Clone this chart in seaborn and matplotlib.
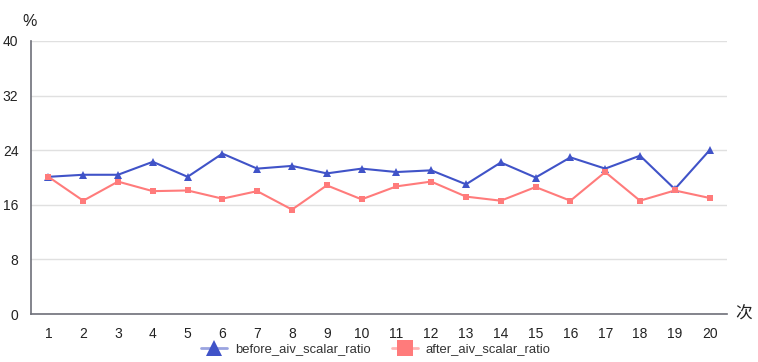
import pandas as pd
import seaborn as sns
import matplotlib.pyplot as plt
from matplotlib.lines import Line2D
from matplotlib.ticker import FixedLocator

# Data
runs = [str(i) for i in range(1, 21)]
before_aiv_scalar_ratio = [20.1, 20.4, 20.4, 22.3, 20.1, 23.5, 21.3, 21.7, 20.6, 21.3,
                           20.8, 21.05, 19.0, 22.2, 20.0, 22.95, 21.3, 23.2, 18.3, 24.0]
after_aiv_scalar_ratio = [20.1, 16.6, 19.4, 18.0, 18.1, 16.9, 18.0, 15.3, 18.85, 16.8,
                          18.7, 19.4, 17.2, 16.6, 18.6, 16.6, 20.8, 16.6, 18.1, 17.0]
y_ticks = [0, 8, 16, 24, 32, 40]

blue = '#4053c8'
red = '#ff7b7b'

df = pd.DataFrame({'run': range(20),
                   'before_aiv_scalar_ratio': before_aiv_scalar_ratio,
                   'after_aiv_scalar_ratio': after_aiv_scalar_ratio})

sns.set_style('white')
plt.rcParams['font.family'] = ['Liberation Sans', 'Noto Sans CJK SC', 'DejaVu Sans']

fig = plt.figure(figsize=(7.58, 3.62), dpi=100)
ax = fig.add_axes([31/758, 48/362, 696/758, 273/362])

sns.lineplot(data=df, x='run', y='before_aiv_scalar_ratio', ax=ax, color=blue,
             marker='^', markersize=5.5, markeredgewidth=0, linewidth=1.5, zorder=2)
sns.lineplot(data=df, x='run', y='after_aiv_scalar_ratio', ax=ax, color=red,
             marker='s', markersize=5, markeredgewidth=0, linewidth=1.5, zorder=3)

ax.set_xlim(-0.5, 19.5)
ax.set_ylim(0, 40)
ax.set_yticks(y_ticks)
ax.yaxis.grid(True, color='#e0e0e0', linewidth=1)
ax.set_axisbelow(True)

# category boundaries get tick marks, centres get the labels
ax.xaxis.set_major_locator(FixedLocator([i - 0.5 for i in range(21)]))
ax.xaxis.set_minor_locator(FixedLocator(list(range(20))))
ax.set_xticklabels([''] * 21)
ax.set_xticklabels(runs, minor=True)
ax.tick_params(axis='x', which='major', length=5, width=1, color='#6e7079', direction='out')
ax.tick_params(axis='x', which='minor', length=0, pad=9, labelsize=10, labelcolor='#222222')
ax.tick_params(axis='y', length=5, width=1, color='#6e7079', direction='out',
               labelsize=10, labelcolor='#222222', pad=4)

for s in ['top', 'right']:
    ax.spines[s].set_visible(False)
for s in ['left', 'bottom']:
    ax.spines[s].set_color('#6e7079')
    ax.spines[s].set_linewidth(1.2)

ax.set_xlabel('')
ax.set_ylabel('')
fig.text(30/758, 1 - 22/362, '%', ha='center', va='center', fontsize=11.5, color='#222222')
fig.text(744/758, 1 - 314/362, '次', ha='center', va='center', fontsize=12, color='#222222')

handles = [
    Line2D([0], [0], color='#9aa4e0', linewidth=2, marker='^', markersize=12,
           markerfacecolor=blue, markeredgewidth=0),
    Line2D([0], [0], color='#ffb5b5', linewidth=2, marker='s', markersize=11,
           markerfacecolor=red, markeredgewidth=0),
]
fig.legend(handles, ['before_aiv_scalar_ratio', 'after_aiv_scalar_ratio'],
           loc='center', bbox_to_anchor=(376/758, 1 - 349/362), ncol=2, frameon=False,
           fontsize=9.4, handlelength=2.0, columnspacing=1.6, handletextpad=0.6,
           labelcolor='#333333')

fig.savefig('out.png', dpi=100)
